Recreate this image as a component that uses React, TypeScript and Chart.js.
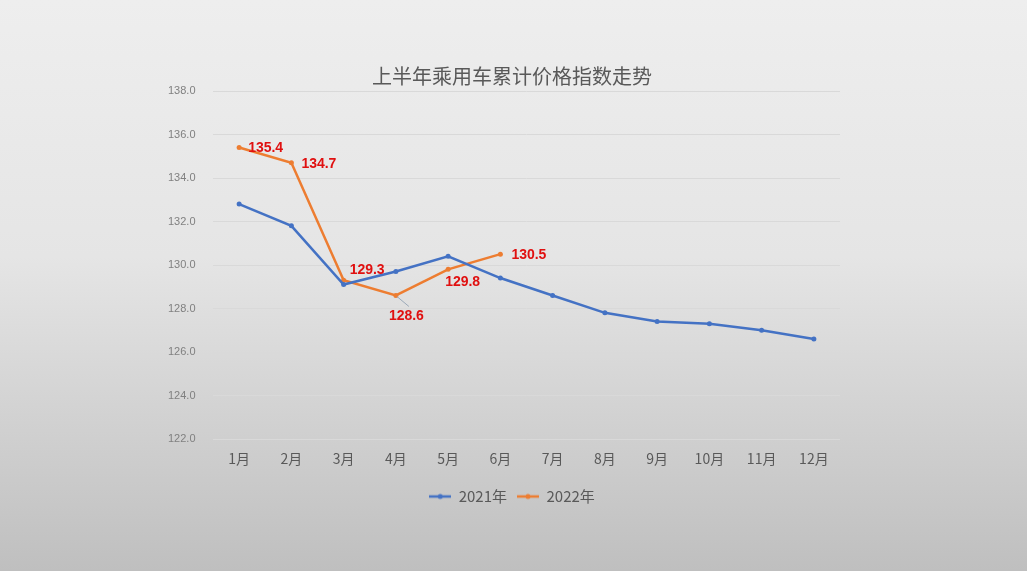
import React, { useEffect, useRef } from "react";
import { Chart, registerables } from "chart.js";

Chart.register(...registerables);

const months = ["1月", "2月", "3月", "4月", "5月", "6月", "7月", "8月", "9月", "10月", "11月", "12月"];
const series2021 = [132.8, 131.8, 129.1, 129.7, 130.4, 129.4, 128.6, 127.8, 127.4, 127.3, 127.0, 126.6];
const series2022 = [135.4, 134.7, 129.3, 128.6, 129.8, 130.5];
const yTicks = [122, 124, 126, 128, 130, 132, 134, 136, 138];
const chartTitle = "上半年乘用车累计价格指数走势";
const seriesNames = ["2021年", "2022年"];
const seriesColors = ["#4472C4", "#ED7D31"];

// label placement offsets (style, not data): [dx, dy] from point
const labelOffsets: [number, number][] = [
  [9, 1],
  [10, 1],
  [6, -10],
  [-7, 21],
  [-3, 13],
  [11, 1],
];

const CJK = '"Noto Sans CJK SC", "Noto Sans", sans-serif';

function legendMarker(color: string) {
  const c = document.createElement("canvas");
  c.width = 22;
  c.height = 8;
  const g = c.getContext("2d")!;
  g.strokeStyle = color;
  g.lineWidth = 2.5;
  g.beginPath();
  g.moveTo(0, 4);
  g.lineTo(22, 4);
  g.stroke();
  g.fillStyle = color;
  g.beginPath();
  g.arc(11, 4, 2.5, 0, Math.PI * 2);
  g.fill();
  return c;
}

const labelPlugin = {
  id: "valueLabels",
  afterDatasetsDraw(chart: any) {
    const ctx = chart.ctx;
    const meta = chart.getDatasetMeta(1);
    ctx.save();
    ctx.font = 'bold 14px "Liberation Sans", Arial, sans-serif';
    ctx.fillStyle = "#e01010";
    ctx.textBaseline = "middle";
    ctx.textAlign = "left";
    meta.data.forEach((pt: any, i: number) => {
      const [dx, dy] = labelOffsets[i];
      if (i === 3) {
        ctx.strokeStyle = "#9aa8b8";
        ctx.lineWidth = 1;
        ctx.beginPath();
        ctx.moveTo(pt.x + 1, pt.y + 1);
        ctx.lineTo(pt.x + 13, pt.y + 11);
        ctx.stroke();
      }
      ctx.fillText(series2022[i].toFixed(1), pt.x + dx, pt.y + dy);
    });
    ctx.restore();
  },
};

export default function App() {
  const ref = useRef<HTMLCanvasElement>(null);
  useEffect(() => {
    document.body.style.margin = "0";
    const markers = seriesColors.map(legendMarker);
    const chart = new Chart(ref.current!, {
      type: "line",
      data: {
        labels: months,
        datasets: [
          {
            label: seriesNames[0],
            data: series2021,
            borderColor: seriesColors[0],
            backgroundColor: seriesColors[0],
            borderWidth: 2.5,
            pointRadius: 2.5,
            pointBorderWidth: 0,
            tension: 0,
          },
          {
            label: seriesNames[1],
            data: series2022,
            borderColor: seriesColors[1],
            backgroundColor: seriesColors[1],
            borderWidth: 2.5,
            pointRadius: 2.5,
            pointBorderWidth: 0,
            tension: 0,
          },
        ],
      },
      options: {
        animation: false,
        responsive: false,
        layout: { padding: { left: 184, right: 187, top: 0, bottom: 57 } },
        plugins: {
          title: {
            display: true,
            text: chartTitle,
            color: "#595959",
            font: { family: CJK, size: 20, weight: "normal", lineHeight: 1.2 },
            padding: { top: 64, bottom: 3 },
          },
          legend: {
            position: "bottom",
            labels: {
              color: "#595959",
              font: { family: CJK, size: 15 },
              usePointStyle: true,
              pointStyleWidth: 22,
              padding: 10,
              generateLabels: (c: any) =>
                c.data.datasets.map((d: any, i: number) => ({
                  text: d.label,
                  fillStyle: d.borderColor,
                  strokeStyle: d.borderColor,
                  lineWidth: 0,
                  pointStyle: markers[i],
                  datasetIndex: i,
                  fontColor: "#595959",
                })),
            },
          },
          tooltip: { enabled: false },
        },
        scales: {
          x: {
            offset: true,
            grid: { display: false, drawTicks: false },
            border: { display: false },
            ticks: {
              color: "#595959",
              font: { family: CJK, size: 14 },
              padding: 11,
            },
            afterFit: (s: any) => {
              s.height = 40;
            },
          },
          y: {
            min: 122,
            max: 138,
            afterBuildTicks: (s: any) => {
              s.ticks = yTicks.map((v) => ({ value: v }));
            },
            grid: { color: "#d9d9d9", lineWidth: 1, drawTicks: false },
            border: { display: false },
            ticks: {
              mirror: true,
              color: "#808080",
              font: { family: '"Liberation Sans Narrow", "Liberation Sans", Arial, sans-serif', size: 11 },
              padding: -45,
              callback: (v: any) => Number(v).toFixed(1),
            },
            afterFit: (s: any) => {
              s.width = 29;
            },
          },
        },
      },
      plugins: [labelPlugin],
    });
    return () => chart.destroy();
  }, []);
  return (
    <div
      style={{
        position: "fixed",
        left: 0,
        top: 0,
        width: 1027,
        height: 571,
        background: "linear-gradient(to bottom, #eeeeee 0%, #e5e5e5 45%, #bfbfbf 100%)",
      }}
    >
      <canvas ref={ref} width={1027} height={571} style={{ display: "block" }} />
    </div>
  );
}
